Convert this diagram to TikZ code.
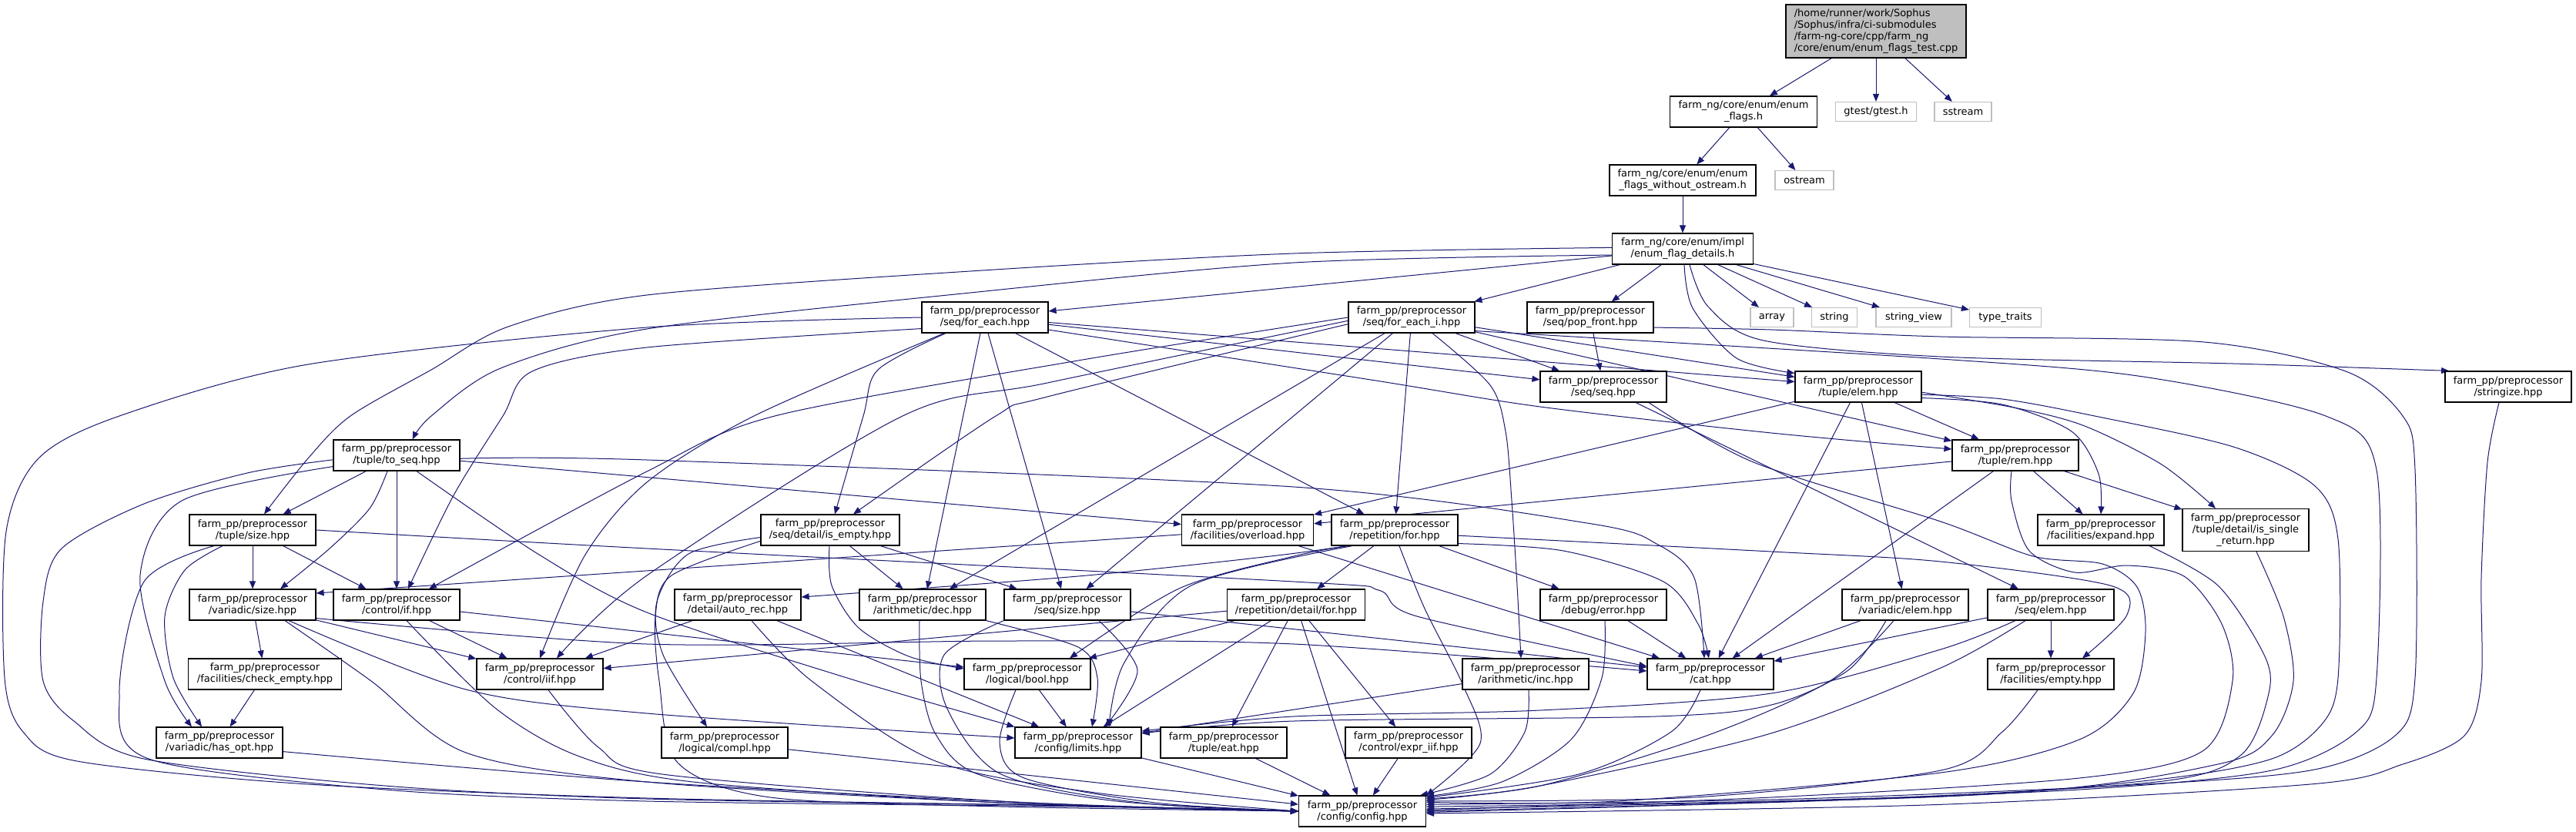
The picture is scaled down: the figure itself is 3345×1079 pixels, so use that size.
\documentclass[tikz,border=0pt]{standalone}
\usepackage{fontspec}
\setmainfont{DejaVu Sans}
\usetikzlibrary{arrows.meta}
\definecolor{edgec}{HTML}{191970}
\definecolor{extc}{HTML}{BFBFBF}
\definecolor{rootfill}{HTML}{BFBFBF}
\pgfdeclarelayer{bg}
\pgfsetlayers{bg,main}
\begin{document}
\begin{tikzpicture}[x=1pt,y=-1pt,
  every node/.style={font=\fontsize{13}{15}\selectfont},
  nd/.style={draw=black, line width=1.2pt, fill=white, inner sep=0pt, minimum width=164pt, minimum height=40pt, align=center},
  ext/.style={draw=extc, line width=1.2pt, fill=white, inner sep=0pt, minimum height=25pt, align=center},
  e/.style={draw=edgec, line width=1pt, -{Triangle[length=10pt,width=8pt]}},
]
\useasboundingbox (0,0) rectangle (3345,1079);
% nodes
\node[nd, fill=rootfill, minimum width=234pt, minimum height=69pt, align=left] (root) at (2436,40.5) {/home/runner/work/Sophus\\/Sophus/infra/ci-submodules\\/farm-ng-core/cpp/farm\_ng\\/core/enum/enum\_flags\_test.cpp};
\node[nd, minimum width=191pt] (ef) at (2264,145) {farm\_ng/core/enum/enum\\\_flags.h};
\node[ext, minimum width=105pt] (gtest) at (2436,145) {gtest/gtest.h};
\node[ext, minimum width=74pt] (sstream) at (2549,145) {sstream};
\node[nd, minimum width=190pt] (wo) at (2185,234) {farm\_ng/core/enum/enum\\\_flags\_without\_ostream.h};
\node[ext, minimum width=76pt] (ostream) at (2343,234) {ostream};
\node[nd, minimum width=183pt] (det) at (2185,323) {farm\_ng/core/enum/impl\\/enum\_flag\_details.h};
\node[nd] (fe) at (1279,412) {farm\_pp/preprocessor\\/seq/for\_each.hpp};
\node[nd] (fei) at (1833,412) {farm\_pp/preprocessor\\/seq/for\_each\_i.hpp};
\node[nd] (pop) at (2065,412) {farm\_pp/preprocessor\\/seq/pop\_front.hpp};
\node[ext, minimum width=56pt] (arr) at (2301,412) {array};
\node[ext, minimum width=59pt] (str) at (2382,412) {string};
\node[ext, minimum width=98pt] (sv) at (2485,412) {string\_view};
\node[ext, minimum width=93pt] (tt) at (2604,412) {type\_traits};
\node[nd] (seq) at (2082,502) {farm\_pp/preprocessor\\/seq/seq.hpp};
\node[nd] (elem) at (2413,502) {farm\_pp/preprocessor\\/tuple/elem.hpp};
\node[nd] (strz) at (3257,502) {farm\_pp/preprocessor\\/stringize.hpp};
\node[nd] (toseq) at (515,591) {farm\_pp/preprocessor\\/tuple/to\_seq.hpp};
\node[nd] (rem) at (2617,591) {farm\_pp/preprocessor\\/tuple/rem.hpp};
\node[nd] (tsize) at (328,688) {farm\_pp/preprocessor\\/tuple/size.hpp};
\node[nd, minimum width=180pt] (isempty) at (1078,688) {farm\_pp/preprocessor\\/seq/detail/is\_empty.hpp};
\node[nd, minimum width=171pt] (ovl) at (1620,688) {farm\_pp/preprocessor\\/facilities/overload.hpp};
\node[nd] (rfor) at (1811,688) {farm\_pp/preprocessor\\/repetition/for.hpp};
\node[nd] (expand) at (2728,688) {farm\_pp/preprocessor\\/facilities/expand.hpp};
\node[nd, minimum height=55pt] (isr) at (2916,688) {farm\_pp/preprocessor\\/tuple/detail/is\_single\\\_return.hpp};
\node[nd] (vsize) at (328,785) {farm\_pp/preprocessor\\/variadic/size.hpp};
\node[nd] (cif) at (515,785) {farm\_pp/preprocessor\\/control/if.hpp};
\node[nd] (autorec) at (958,785) {farm\_pp/preprocessor\\/detail/auto\_rec.hpp};
\node[nd] (dec) at (1198,785) {farm\_pp/preprocessor\\/arithmetic/dec.hpp};
\node[nd] (seqsize) at (1386,785) {farm\_pp/preprocessor\\/seq/size.hpp};
\node[nd, minimum width=179pt] (rdf) at (1683,785) {farm\_pp/preprocessor\\/repetition/detail/for.hpp};
\node[nd] (err) at (2082,785) {farm\_pp/preprocessor\\/debug/error.hpp};
\node[nd] (velem) at (2474,785) {farm\_pp/preprocessor\\/variadic/elem.hpp};
\node[nd] (selem) at (2663,785) {farm\_pp/preprocessor\\/seq/elem.hpp};
\node[nd, minimum width=199pt] (chk) at (344,875) {farm\_pp/preprocessor\\/facilities/check\_empty.hpp};
\node[nd] (iif) at (701,875) {farm\_pp/preprocessor\\/control/iif.hpp};
\node[nd] (bool) at (1334,875) {farm\_pp/preprocessor\\/logical/bool.hpp};
\node[nd] (inc) at (1981,875) {farm\_pp/preprocessor\\/arithmetic/inc.hpp};
\node[nd] (cat) at (2221,875) {farm\_pp/preprocessor\\/cat.hpp};
\node[nd] (empty) at (2663,875) {farm\_pp/preprocessor\\/facilities/empty.hpp};
\node[nd] (hasopt) at (285,964) {farm\_pp/preprocessor\\/variadic/has\_opt.hpp};
\node[nd] (compl) at (941,964) {farm\_pp/preprocessor\\/logical/compl.hpp};
\node[nd] (limits) at (1400,964) {farm\_pp/preprocessor\\/config/limits.hpp};
\node[nd] (eat) at (1589,964) {farm\_pp/preprocessor\\/tuple/eat.hpp};
\node[nd] (exiif) at (1829,964) {farm\_pp/preprocessor\\/control/expr\_iif.hpp};
\node[nd, minimum width=165pt] (config) at (1769,1053) {farm\_pp/preprocessor\\/config/config.hpp};

\begin{pgfonlayer}{bg}
% top
\draw[e] (root) -- (ef);
\draw[e] (root) -- (gtest);
\draw[e] (root) -- (sstream);
\draw[e] (ef) -- (wo);
\draw[e] (ef) -- (ostream);
\draw[e] (wo) -- (det);
% details
\draw[e] (det) -- (fe);
\draw[e] (det) -- (fei);
\draw[e] (det) -- (pop);
\draw[e] (det) -- (arr);
\draw[e] (det) -- (str);
\draw[e] (det) -- (sv);
\draw[e] (det) -- (tt);
\draw[e] plot[smooth] coordinates {([xshift=2pt]det.south) (2198,400) (2255,465) (elem.168)};
\draw[e] plot[smooth] coordinates {([xshift=9pt]det.south) (2218,398) (2290,442) (2520,463) (2900,472) (strz.165)};
\draw[e] plot[smooth] coordinates {(det.185) (1680,341) (1260,380) (840,427) (650,478) (560,540) (toseq.45)};
\draw[e] plot[smooth] coordinates {(det.179) (1680,329) (1260,352) (840,383) (660,424) (560,480) (455,540) (400,595) ([xshift=15pt]tsize.north)};
% for_each
\draw[e] plot[smooth] coordinates {(fe.west) (840,425) (400,473) (155,540) (50,595) (8,690) (6,880) (30,950) (100,988) (400,1018) (840,1036) (1400,1046) (config.west)};
\draw[e] plot[smooth] coordinates {(fe.190) (840,451) (691,482) (653,540) (589,643) ([xshift=15pt]cif.north)};
\draw[e] plot[smooth] coordinates {([xshift=-53pt]fe.south) (979,540) (840,626) (760,720) (iif.north)};
\draw[e] plot[smooth] coordinates {([xshift=-51pt]fe.south) (1140,480) (1121,540) ([xshift=6pt]isempty.north)};
\draw[e] ([xshift=-6pt]fe.south) -- ([xshift=6pt]dec.north);
\draw[e] ([xshift=4pt]fe.south) -- ([xshift=-8pt]seqsize.north);
\draw[e] (fe) -- (rfor);
\draw[e] (fe) -- (seq);
\draw[e] (fe) -- (elem);
\draw[e] plot[smooth] coordinates {(fe.-11) (1780,493) (2000,528) (2300,562) ([yshift=8pt]rem.west)};
% for_each_i
\draw[e] plot[smooth] coordinates {(fei.west) (1400,468) (1006,540) (840,612) ([xshift=42pt]cif.north)};
\draw[e] plot[smooth] coordinates {(fei.183) (1360,497) (1172,540) (840,747) ([xshift=22pt]iif.north)};
\draw[e] plot[smooth] coordinates {(fei.186) (1360,515) (1293,540) ([xshift=30pt]isempty.north)};
\draw[e] (fei) -- (dec);
\draw[e] (fei) -- (seqsize);
\draw[e] (fei) -- (rfor);
\draw[e] (fei) -- (seq);
\draw[e] (fei) -- (elem);
\draw[e] (fei) -- (rem);
\draw[e] plot[smooth] coordinates {([xshift=27pt]fei.south) (1935,500) (1955,560) (1963,650) (1970,760) ([xshift=-6pt]inc.north)};
\draw[e] plot[smooth] coordinates {(fei.-12) (2520,466) (2783,489) (3020,540) (3086,610) (3086,880) (3060,950) (2950,1000) (2700,1025) (2300,1040) (config.4)};
% pop_front
\draw[e] (pop) -- (seq);
\draw[e] plot[smooth] coordinates {(pop.-9) (2300,428) (2520,437) (2862,444) (3046,482) (3120,540) (3136,610) (3136,880) (3110,955) (3000,1000) (2750,1020) (2300,1038) (config.6)};
% seq
\draw[e] (seq) -- (selem);
\draw[e] plot[smooth] coordinates {([xshift=59pt]seq.south) (2277,600) (2520,677) (2640,722) (2730,732) (2775,762) (2786,820) (2770,900) (2700,960) (2520,1003) (2100,1040) (config.8)};
% elem
\draw[e] (elem) -- (cat);
\draw[e] (elem) -- (velem);
\draw[e] (elem) -- (rem);
\draw[e] (elem) -- (ovl);
\draw[e] plot[smooth] coordinates {(elem.-10) (2600,525) (2690,560) (2725,615) (expand.north)};
\draw[e] plot[smooth] coordinates {(elem.-5) (2620,530) (2707,553) (2807,603) ([xshift=-39pt]isr.north)};
\draw[e] plot[smooth] coordinates {(elem.-7) (2600,518) (2720,540) (2900,580) (3005,630) (3036,700) (3036,880) (3015,940) (2950,985) (2800,1012) (2500,1035) (config.2)};
% rem
\draw[e] (rem) -- (ovl);
\draw[e] (rem) -- (cat);
\draw[e] (rem) -- (expand);
\draw[e] (rem) -- (isr);
\draw[e] plot[smooth] coordinates {([xshift=-5pt]rem.south) (2612,650) (2635,715) (2694,743) (2762,734) (2836,748) (2885,810) (2899,884) (2860,975) (2700,1010) (2300,1035) (config.1)};
% right-side leaves to config
\draw[e] plot[smooth] coordinates {([xshift=63pt]expand.south) (2880,760) (2940,850) (2946,900) (2910,980) (2800,1015) (2400,1038) (config.0)};
\draw[e] plot[smooth] coordinates {([xshift=14pt]isr.south) (2965,800) (2978,884) (2950,955) (2880,992) (2600,1030) (config.-1)};
\draw[e] plot[smooth] coordinates {([xshift=-12pt]strz.south) (3230,600) (3222,750) (3222,884) (3200,955) (3120,992) (3000,1018) (2500,1045) (config.-2)};
\draw[e] plot[smooth] coordinates {([xshift=-17pt]empty.south) (2600,950) (2520,1000) (2200,1035) (config.9)};
% seq/elem
\draw[e] (selem) -- (empty);
\draw[e] (selem) -- (cat);
\draw[e] plot[smooth] coordinates {([xshift=-46pt]selem.south) (2520,843) (2300,900) (2000,922) (1680,930) ([yshift=15pt]limits.east)};
\draw[e] plot[smooth] coordinates {([xshift=-33pt]selem.south) (2520,867) (2296,953) (2000,1020) (config.10)};
% variadic/elem
\draw[e] (velem) -- (cat);
\draw[e] plot[smooth] coordinates {([xshift=-25pt]velem.south) (2400,870) (2300,915) (2150,930) (1680,936) ([yshift=12pt]limits.east)};
\draw[e] plot[smooth] coordinates {([xshift=-15pt]velem.south) (2376,884) (2216,955) (2000,1020) (config.11)};
% cat, inc, error
\draw[e] plot[smooth] coordinates {([xshift=-13pt]cat.south) (2170,950) (2050,1005) (config.12)};
\draw[e] plot[smooth] coordinates {([xshift=4pt]inc.south) (1980,950) (1935,1005) ([xshift=-8pt]config.north east)};
\draw[e] (inc) -- (limits);
\draw[e] (err) -- (cat);
\draw[e] plot[smooth] coordinates {([xshift=2pt]err.south) (2080,880) (2040,960) (1950,1015) (config.13)};
% repetition/for
\draw[e] plot[smooth] coordinates {([xshift=-62pt]rfor.south) (1650,722) (1400,748) ([yshift=10pt]autorec.east)};
\draw[e] plot[smooth] coordinates {([xshift=-60pt]rfor.south) (1680,722) (1531,764) ([xshift=55pt]bool.north)};
\draw[e] plot[smooth] coordinates {([xshift=-55pt]rfor.south) (1547,760) (1460,860) ([xshift=40pt]limits.north)};
\draw[e] (rfor) -- (rdf);
\draw[e] plot[smooth] coordinates {([xshift=6pt]rfor.south) (1850,790) (1900,890) (1922,965) (config.north east)};
\draw[e] (rfor) -- (err);
\draw[e] plot[smooth] coordinates {(rfor.-5) (2300,716) (2520,729) (2740,760) (2762,798) ([xshift=41pt]empty.north)};
\draw[e] plot[smooth] coordinates {(rfor.-12) (2030,715) (2160,755) (2205,810) ([xshift=-2pt]cat.north)};
% repetition/detail/for
\draw[e] (rdf) -- (bool);
\draw[e] (rdf) -- (eat);
\draw[e] (rdf) -- (exiif);
\draw[e] (rdf) -- (limits);
\draw[e] (rdf) -- (config);
\draw[e] (rdf) -- (iif);
% auto_rec
\draw[e] (autorec) -- (iif);
\draw[e] (autorec) -- (limits);
\draw[e] plot[smooth] coordinates {([xshift=18pt]autorec.south) (1054,884) (1215,988) (1430,1030) (config.west)};
% is_empty
\draw[e] plot[smooth] coordinates {(isempty.186) (894,719) (853,781) (861,850) ([xshift=-23pt]compl.north)};
\draw[e] plot[smooth] coordinates {(isempty.189) (872,747) (851,800) (856,884) (880,990) (1000,1035) (1300,1047) (config.west)};
\draw[e] plot[smooth] coordinates {([xshift=-1pt]isempty.south) (1080,760) (1115,815) (1180,852) ([yshift=7pt]bool.west)};
\draw[e] (isempty) -- (dec);
\draw[e] (isempty) -- (seqsize);
% dec
\draw[e] plot[smooth] coordinates {([xshift=-4pt]dec.south) (1196,884) (1215,953) (1270,1005) (1450,1040) (config.west)};
\draw[e] plot[smooth] coordinates {(dec.south east) (1400,840) (1425,880) ([xshift=18pt]limits.north)};
% seq/size
\draw[e] (seqsize) -- (cat);
\draw[e] plot[smooth] coordinates {([xshift=41pt]seqsize.south) (1477,870) ([xshift=35pt]limits.north)};
\draw[e] plot[smooth] coordinates {(seqsize.south west) (1226,850) (1230,920) (1300,1005) (1480,1042) (config.west)};
% bool
\draw[e] plot[smooth] coordinates {([xshift=-15pt]bool.south) (1298,964) (1330,1010) (1500,1042) (config.west)};
\draw[e] (bool) -- (limits);
% simple ones
\draw[e] (compl) -- (config);
\draw[e] (limits) -- (config);
\draw[e] (eat) -- (config);
\draw[e] (exiif) -- (config);
% control/if
\draw[e] (cif) -- (iif);
\draw[e] (cif) -- (bool);
\draw[e] plot[smooth] coordinates {([xshift=13pt]cif.south) (643,919) (750,981) (900,1015) (1300,1042) (config.west)};
% iif
\draw[e] plot[smooth] coordinates {([xshift=11pt]iif.south) (777,970) (860,1005) (1300,1040) (config.west)};
% variadic/size
\draw[e] (vsize) -- (chk);
\draw[e] (vsize) -- (iif);
\draw[e] plot[smooth] coordinates {(vsize.-12) (840,836) (1300,832) (1680,836) ([yshift=4pt]cat.west)};
\draw[e] plot[smooth] coordinates {([xshift=47pt]vsize.south) (605,895) (840,926) ([yshift=6pt]limits.west)};
\draw[e] plot[smooth] coordinates {([xshift=42pt]vsize.south) (482,884) (605,977) (840,1015) (1300,1042) (config.west)};
% check_empty, has_opt
\draw[e] (chk) -- (hasopt);
\draw[e] plot[smooth] coordinates {(hasopt.-8) (840,1015) (1400,1045) (config.west)};
% to_seq
\draw[e] (toseq) -- (tsize);
\draw[e] plot[smooth] coordinates {([xshift=-12pt]toseq.south) (480,660) (428,712) ([xshift=36pt]vsize.north)};
\draw[e] (toseq) -- (cif);
\draw[e] plot[smooth] coordinates {([xshift=26pt]toseq.south) (700,720) (840,795) (1100,880) (limits.north west)};
\draw[e] plot[smooth] coordinates {(toseq.-3) (840,597) (1680,632) (2067,680) (2153,707) (2200,750) ([xshift=-8pt]cat.north)};
\draw[e] (toseq) -- (ovl);
\draw[e] plot[smooth] coordinates {(toseq.190) (236,650) (182,747) (214,884) ([xshift=-36pt]hasopt.north)};
\draw[e] plot[smooth] coordinates {(toseq.184) (321,614) (187,654) (80,712) (56,781) (56,884) (96,936) (187,985) (500,1020) (840,1037) (1400,1046) (config.west)};
% tuple/size
\draw[e] (tsize) -- (vsize);
\draw[e] (tsize) -- (cif);
\draw[e] plot[smooth] coordinates {([xshift=-39pt]tsize.south) (240,740) (214,800) (225,880) ([xshift=-23pt]hasopt.north)};
\draw[e] plot[smooth] coordinates {([xshift=-50pt]tsize.south) (187,755) (155,900) (193,985) (500,1025) (840,1040) (1400,1047) (config.west)};
\draw[e] plot[smooth] coordinates {(tsize.east) (840,712) (1680,755) (1790,766) (1840,800) ([yshift=10pt]cat.west)};
% overload
\draw[e] (ovl) -- ([yshift=15pt]vsize.east);
\draw[e] (ovl) -- (cat);
\end{pgfonlayer}
\end{tikzpicture}
\end{document}
